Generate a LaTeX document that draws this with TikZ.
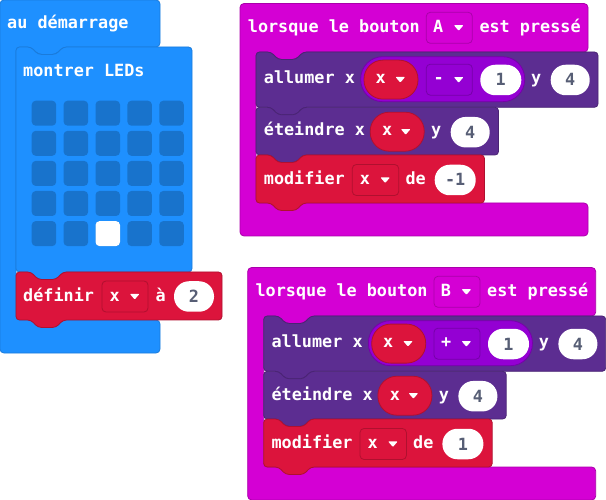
\documentclass[tikz,border=0pt]{standalone}
\usepackage{fontspec}
\newfontfamily\blkfont{DejaVu Sans Mono Bold}
\definecolor{mblue}{HTML}{1E90FF}
\definecolor{mblueD}{HTML}{1A7BDB}
\definecolor{mled}{HTML}{1873CC}
\definecolor{mred}{HTML}{DC143C}
\definecolor{mredD}{HTML}{B0102F}
\definecolor{mpur}{HTML}{5C2D91}
\definecolor{mpurD}{HTML}{4A2474}
\definecolor{mmag}{HTML}{D400D4}
\definecolor{mmagD}{HTML}{AA00AA}
\definecolor{mvio}{HTML}{9400D3}
\definecolor{mvioD}{HTML}{7600A9}
\definecolor{mnum}{HTML}{575E75}
\newcommand\bfnt{\blkfont\fontsize{16.8}{18}\selectfont}
% statement block: xL yT xR yB fill draw
\newcommand\stmtblock[6]{%
  \filldraw[fill=#5, draw=#6, line width=0.8pt, rounded corners=3.5pt]
   (#1,{#2+12}) -- (#1,#2) -- ({#1+15},#2) -- ({#1+22},{#2+7.5}) -- ({#1+40},{#2+7.5}) -- ({#1+47},#2) -- (#3,#2) -- (#3,#4)
   -- ({#1+47},#4) -- ({#1+40},{#4+7.5}) -- ({#1+22},{#4+7.5}) -- ({#1+15},#4) -- (#1,#4) -- cycle;}
% dropdown triangle at cx, yc
\newcommand\ddtri[2]{\fill[white, rounded corners=0.8pt] ({#1-4.8},{#2-2.6}) -- ({#1+4.8},{#2-2.6}) -- (#1,{#2+3}) -- cycle;}
\tikzset{
  lbl/.style={anchor=base west, inner sep=0pt, font=\bfnt, text=white},
  numoval/.style={fill=white, rounded corners=15pt, minimum height=30.5pt, minimum width=#1, inner sep=0pt,
     text=mnum, font=\bfnt, text height=12pt, text depth=0pt},
  ddbox/.style n args={3}{fill=#1, draw=#2, line width=0.8pt, rounded corners=4pt, minimum height=31pt, minimum width=#3, inner sep=0pt},
  varoval/.style={fill=mred, draw=mredD, line width=0.8pt, rounded corners=19pt, minimum height=39pt, minimum width=#1, inner sep=0pt},
  mathoval/.style={fill=mvio, draw=mvioD, line width=0.8pt, rounded corners=22pt, minimum height=45pt, minimum width=#1, inner sep=0pt},
}
\begin{document}
\begin{tikzpicture}[x=1pt,y=-1pt]
\useasboundingbox (0,0) rectangle (606,500);
\fill[white] (0,0) rectangle (606,500);

% ---------- au démarrage ----------
\filldraw[fill=mblue, draw=mblueD, line width=0.8pt, rounded corners=4pt]
  (0,20) -- (0,0) -- (160,0) -- (160,47) -- (63,47) -- (56,54.5) -- (38,54.5) -- (31,47) -- (16,47)
  -- (16,320) -- (160,320) -- (160,353) -- (0,353) -- cycle;
\node[lbl] (start) at (7,28.3) {au démarrage};

\stmtblock{16}{47}{192}{272}{mblue}{mblueD}
\node[lbl] (leds) at (23,76.7) {montrer LEDs};
\foreach \c in {0,...,4}{
  \foreach \r in {0,...,4}{
    \fill[mled, rounded corners=4pt] ({31.7+31.9*\c},{100.7+30.1*\r}) rectangle ++(24.5,25);
  }
}
\fill[white, rounded corners=4pt] ({31.7+31.9*2},{100.7+30.1*4}) rectangle ++(24.5,25);

\stmtblock{16}{272}{222}{320}{mred}{mredD}
\node[lbl] (def) at (23,301.7) {définir};
\node[ddbox={mred}{mredD}{46pt}] (defdd) at (125,296.5) {};
\node[lbl] (defx) at (109.5,301.7) {x};
\ddtri{134.7}{296.5}
\node[lbl] (defa) at (155.5,301.7) {à};
\node[numoval=40pt] (defn) at (194,296.5) {2};

% ---------- event blocks ----------
\foreach \pre/\sx/\sy/\btn/\op/\step in {A/0/0/A/-/-1, B/7.7/264/B/+/1}{
\begin{scope}[shift={(\sx,\sy)}, name prefix=\pre]
\filldraw[fill=mmag, draw=mmagD, line width=0.8pt, rounded corners=4pt]
  (240,20) -- (240,3.5) -- (588,3.5) -- (588,52) -- (303,52) -- (296,59.5) -- (278,59.5) -- (271,52) -- (256,52)
  -- (256,203) -- (588,203) -- (588,236) -- (240,236) -- cycle;
\node[lbl] (hd) at (247.7,32.3) {lorsque le bouton};
\node[ddbox={mmag}{mmagD}{46pt}] (hdd) at (449.3,27.8) {};
\node[lbl] (hddl) at (433,32.3) {\btn};
\ddtri{458.7}{27.8}
\node[lbl] (hd2) at (479.3,32.3) {est pressé};

% allumer
\stmtblock{256}{52}{598}{107.3}{mpur}{mpurD}
\node[lbl] (al) at (263.7,84) {allumer x};
\node[mathoval=164pt] (alm) at (442.7,79.2) {};
\node[varoval=54pt] (alv) at (391,79.6) {};
\node[lbl] (alvx) at (375.3,84) {x};
\ddtri{400.3}{79.6}
\node[ddbox={mvio}{mvioD}{46pt}] (alop) at (449.3,79.7) {};
\node[lbl] (alopl) at (433.3,84) {\op};
\ddtri{458.7}{79.7}
\node[numoval=41pt] (aln) at (500.8,80) {1};
\node[lbl] (aly) at (531,84) {y};
\node[numoval=39pt] (aln2) at (570.2,80) {4};

% éteindre
\stmtblock{256}{107.3}{498.5}{155}{mpur}{mpurD}
\node[lbl] (et) at (263.7,136) {éteindre x};
\node[varoval=54pt] (etv) at (397.2,131.7) {};
\node[lbl] (etvx) at (382,136) {x};
\ddtri{405.7}{131.7}
\node[lbl] (ety) at (431,136) {y};
\node[numoval=39pt] (etn) at (470.2,132.2) {4};

% modifier
\stmtblock{256}{155}{484.5}{203}{mred}{mredD}
\node[lbl] (mo) at (263.7,184.3) {modifier};
\node[ddbox={mred}{mredD}{46.4pt}] (modd) at (375.5,180) {};
\node[lbl] (moddx) at (359.7,184.3) {x};
\ddtri{385.2}{180}
\node[lbl] (mode) at (405.3,184.3) {de};
\node[numoval=41pt] (mon) at (455.2,180) {\step};
\end{scope}
}
\end{tikzpicture}
\end{document}
